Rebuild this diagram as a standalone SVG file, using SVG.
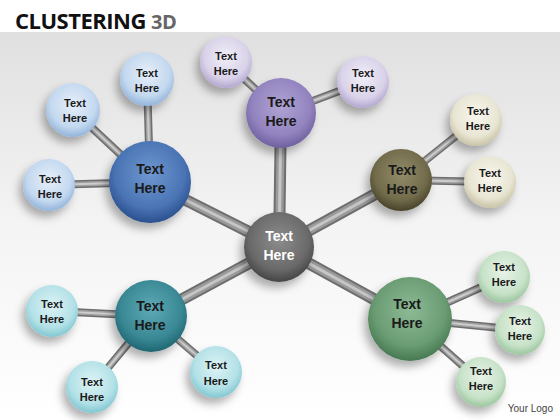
<svg xmlns="http://www.w3.org/2000/svg" width="560" height="420" viewBox="0 0 560 420">
<defs>
<linearGradient id="bg" x1="0" y1="0" x2="0" y2="1">
<stop offset="0" stop-color="#e0e0e0"/><stop offset="0.5" stop-color="#f4f4f4"/><stop offset="1" stop-color="#ffffff"/>
</linearGradient>
<filter id="sh" x="-50%" y="-50%" width="200%" height="200%">
<feDropShadow dx="-4" dy="6" stdDeviation="4" flood-color="#000" flood-opacity="0.3"/>
</filter>
<radialGradient id="gCenter" cx="50%" cy="40%" r="60%"><stop offset="0" stop-color="#8c8c8c"/><stop offset="0.7" stop-color="#6a6a6a"/><stop offset="1" stop-color="#454545"/></radialGradient>
<radialGradient id="gBlue" cx="50%" cy="40%" r="60%"><stop offset="0" stop-color="#6f98d0"/><stop offset="0.7" stop-color="#4a74b4"/><stop offset="1" stop-color="#2b4f8e"/></radialGradient>
<radialGradient id="gBlueS" cx="50%" cy="40%" r="60%"><stop offset="0" stop-color="#e6eff9"/><stop offset="0.7" stop-color="#c3d8ef"/><stop offset="1" stop-color="#93b4db"/></radialGradient>
<radialGradient id="gPurple" cx="50%" cy="40%" r="60%"><stop offset="0" stop-color="#b0a4d4"/><stop offset="0.7" stop-color="#9283bf"/><stop offset="1" stop-color="#6e5f9e"/></radialGradient>
<radialGradient id="gPurpleS" cx="50%" cy="40%" r="60%"><stop offset="0" stop-color="#f1eef7"/><stop offset="0.7" stop-color="#d9d2e9"/><stop offset="1" stop-color="#b3a7cf"/></radialGradient>
<radialGradient id="gOlive" cx="50%" cy="40%" r="60%"><stop offset="0" stop-color="#928c6a"/><stop offset="0.7" stop-color="#716b4b"/><stop offset="1" stop-color="#48432a"/></radialGradient>
<radialGradient id="gOliveS" cx="50%" cy="40%" r="60%"><stop offset="0" stop-color="#f8f7ee"/><stop offset="0.7" stop-color="#e8e5d3"/><stop offset="1" stop-color="#c9c3a6"/></radialGradient>
<radialGradient id="gTeal" cx="50%" cy="40%" r="60%"><stop offset="0" stop-color="#5eaab6"/><stop offset="0.7" stop-color="#3a8895"/><stop offset="1" stop-color="#1f6672"/></radialGradient>
<radialGradient id="gTealS" cx="50%" cy="40%" r="60%"><stop offset="0" stop-color="#ddf3f5"/><stop offset="0.7" stop-color="#b3e1e7"/><stop offset="1" stop-color="#82c7d1"/></radialGradient>
<radialGradient id="gGreen" cx="50%" cy="40%" r="60%"><stop offset="0" stop-color="#8dba95"/><stop offset="0.7" stop-color="#6a9c73"/><stop offset="1" stop-color="#477851"/></radialGradient>
<radialGradient id="gGreenS" cx="50%" cy="40%" r="60%"><stop offset="0" stop-color="#e8f3e8"/><stop offset="0.7" stop-color="#c7e2c8"/><stop offset="1" stop-color="#9cc69f"/></radialGradient>
<style>
.rodB{stroke:#6e6e6e;stroke-width:12}
.rodBm{stroke:#9a9a9a;stroke-width:8}
.rodBh{stroke:#c6c6c6;stroke-width:3}
.rodS{stroke:#6e6e6e;stroke-width:8}
.rodSm{stroke:#a0a0a0;stroke-width:5}
.rodSh{stroke:#cccccc;stroke-width:2}
.node circle{filter:url(#sh)}
.tb{font-family:"Liberation Sans",Arial,sans-serif;font-weight:bold;font-size:14px;fill:#1a1a1a;text-anchor:middle}
.ts{font-family:"Liberation Sans",Arial,sans-serif;font-weight:bold;font-size:11px;fill:#1a1a1a;text-anchor:middle}
.tw{fill:#ffffff}
</style>
<g id="bigRods">
<line x1="279" y1="247" x2="150" y2="182"/>
<line x1="279" y1="247" x2="281" y2="113"/>
<line x1="279" y1="247" x2="401" y2="180"/>
<line x1="279" y1="247" x2="151" y2="316"/>
<line x1="279" y1="247" x2="410" y2="319"/>
</g>
<g id="smallRods">
<line x1="150" y1="182" x2="73" y2="110"/>
<line x1="150" y1="182" x2="147" y2="78"/>
<line x1="150" y1="182" x2="49" y2="185"/>
<line x1="281" y1="113" x2="226" y2="62"/>
<line x1="281" y1="113" x2="363" y2="82"/>
<line x1="401" y1="180" x2="476" y2="120"/>
<line x1="401" y1="180" x2="490" y2="182"/>
<line x1="151" y1="316" x2="52" y2="311"/>
<line x1="151" y1="316" x2="92" y2="387"/>
<line x1="151" y1="316" x2="216" y2="372"/>
<line x1="410" y1="319" x2="504" y2="277"/>
<line x1="410" y1="319" x2="520" y2="330"/>
<line x1="410" y1="319" x2="481" y2="382"/>
</g>
</defs>
<rect x="0" y="0" width="560" height="420" fill="#ffffff"/>
<rect x="0" y="32" width="560" height="388" fill="url(#bg)"/>
<text x="15" y="29" font-family="'Open Sans','Liberation Sans',sans-serif" font-weight="bold" font-size="22" fill="#111" letter-spacing="-0.5">CLUSTERING <tspan fill="#666" font-size="20">3D</tspan></text>
<text x="553" y="412" font-family="'Liberation Sans',Arial,sans-serif" font-size="10" fill="#444" text-anchor="end">Your Logo</text>

<g id="connectors">
<use href="#bigRods" class="rodB"/>
<use href="#bigRods" class="rodBm"/>
<use href="#bigRods" class="rodBh"/>
<use href="#smallRods" class="rodS"/>
<use href="#smallRods" class="rodSm"/>
<use href="#smallRods" class="rodSh"/>
</g>

<g id="blue-s1" class="node"><circle cx="73" cy="110" r="27" fill="url(#gBlueS)"/><text class="ts" x="75" y="107">Text</text><text class="ts" x="75" y="122">Here</text></g>
<g id="blue-s2" class="node"><circle cx="147" cy="79" r="27" fill="url(#gBlueS)"/><text class="ts" x="147" y="77">Text</text><text class="ts" x="147" y="92">Here</text></g>
<g id="blue-s3" class="node"><circle cx="49" cy="185" r="26" fill="url(#gBlueS)"/><text class="ts" x="50" y="183">Text</text><text class="ts" x="50" y="198">Here</text></g>
<g id="blue" class="node"><circle cx="150" cy="182" r="41" fill="url(#gBlue)"/><text class="tb" x="150" y="174">Text</text><text class="tb" x="150" y="193">Here</text></g>

<g id="purple-s1" class="node"><circle cx="226" cy="62" r="26" fill="url(#gPurpleS)"/><text class="ts" x="226" y="60">Text</text><text class="ts" x="226" y="75">Here</text></g>
<g id="purple-s2" class="node"><circle cx="363" cy="82" r="26" fill="url(#gPurpleS)"/><text class="ts" x="363" y="77">Text</text><text class="ts" x="363" y="92">Here</text></g>
<g id="purple" class="node"><circle cx="281" cy="113" r="35" fill="url(#gPurple)"/><text class="tb" x="281" y="107">Text</text><text class="tb" x="281" y="126">Here</text></g>

<g id="olive-s1" class="node"><circle cx="476" cy="120" r="26" fill="url(#gOliveS)"/><text class="ts" x="478" y="115">Text</text><text class="ts" x="478" y="130">Here</text></g>
<g id="olive-s2" class="node"><circle cx="490" cy="182" r="26" fill="url(#gOliveS)"/><text class="ts" x="490" y="177">Text</text><text class="ts" x="490" y="192">Here</text></g>
<g id="olive" class="node"><circle cx="401" cy="180" r="31" fill="url(#gOlive)"/><text class="tb" x="402" y="175">Text</text><text class="tb" x="402" y="194">Here</text></g>

<g id="teal-s1" class="node"><circle cx="52" cy="311" r="26" fill="url(#gTealS)"/><text class="ts" x="52" y="308">Text</text><text class="ts" x="52" y="323">Here</text></g>
<g id="teal-s2" class="node"><circle cx="92" cy="387" r="26" fill="url(#gTealS)"/><text class="ts" x="92" y="386">Text</text><text class="ts" x="92" y="401">Here</text></g>
<g id="teal-s3" class="node"><circle cx="216" cy="372" r="26" fill="url(#gTealS)"/><text class="ts" x="216" y="369">Text</text><text class="ts" x="216" y="385">Here</text></g>
<g id="teal" class="node"><circle cx="151" cy="316" r="36" fill="url(#gTeal)"/><text class="tb" x="150" y="311">Text</text><text class="tb" x="150" y="330">Here</text></g>

<g id="green-s1" class="node"><circle cx="504" cy="277" r="26" fill="url(#gGreenS)"/><text class="ts" x="504" y="271">Text</text><text class="ts" x="504" y="286">Here</text></g>
<g id="green-s2" class="node"><circle cx="520" cy="330" r="25" fill="url(#gGreenS)"/><text class="ts" x="520" y="325">Text</text><text class="ts" x="520" y="340">Here</text></g>
<g id="green-s3" class="node"><circle cx="481" cy="382" r="25" fill="url(#gGreenS)"/><text class="ts" x="481" y="375">Text</text><text class="ts" x="481" y="390">Here</text></g>
<g id="green" class="node"><circle cx="410" cy="319" r="42" fill="url(#gGreen)"/><text class="tb" x="407" y="309">Text</text><text class="tb" x="407" y="328">Here</text></g>

<g id="center" class="node"><circle cx="279" cy="247" r="35" fill="url(#gCenter)"/><text class="tb tw" x="279" y="241">Text</text><text class="tb tw" x="279" y="260">Here</text></g>
</svg>
